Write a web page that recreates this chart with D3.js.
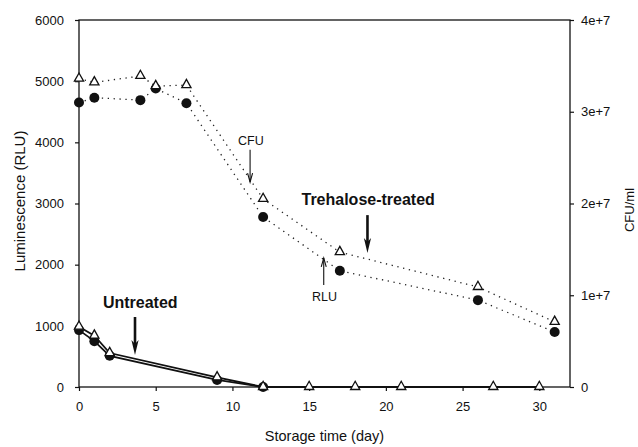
<!DOCTYPE html>
<html>
<head>
<meta charset="utf-8">
<script src="https://cdn.jsdelivr.net/npm/d3@7"></script>
<style>
  body { margin: 0; background: #fff; }
  text { font-family: "Liberation Sans", Arial, sans-serif; fill: #111; }
</style>
</head>
<body>
<div id="chart"></div>
<script>
// trehalose-treated cells
var treatedDays = [0, 1, 4, 5, 7, 12, 17, 26, 31];
var treatedRLU = [4650, 4730, 4690, 4880, 4640, 2780, 1900, 1420, 900];
var treatedCFU = [3.36e7, 3.32e7, 3.39e7, 3.28e7, 3.29e7, 2.05e7, 1.47e7, 1.09e7, 7.1e6];

// untreated cells
var untreatedRLUDays = [0, 1, 2, 9, 12];
var untreatedRLU = [930, 750, 510, 115, 0];
var untreatedCFUDays = [0, 1, 2, 9, 12, 15, 18, 21, 27, 30];
var untreatedCFU = [6.57e6, 5.6e6, 3.7e6, 1.05e6, 0, 0, 0, 0, 0, 0];

var xTicks = [0, 5, 10, 15, 20, 25, 30];
var leftTicks = [0, 1000, 2000, 3000, 4000, 5000, 6000];
var rightTicks = [0, 1e7, 2e7, 3e7, 4e7];
var rightTickLabels = ["0", "1e+7", "2e+7", "3e+7", "4e+7"];

var W = 638, H = 447;
var margin = { top: 20, right: 68, bottom: 60, left: 79 },
    width = W - margin.left - margin.right,
    height = H - margin.top - margin.bottom;

var svg = d3.select("#chart").append("svg")
    .attr("width", W)
    .attr("height", H);

var g = svg.append("g")
    .attr("transform", "translate(" + margin.left + "," + margin.top + ")");

var x = d3.scaleLinear().domain([0, 32]).range([0, width]);
var y = d3.scaleLinear().domain([0, 6000]).range([height, 0]);
var yR = d3.scaleLinear().domain([0, 4e7]).range([height, 0]);

// axes
var xAxis = g.append("g")
    .attr("transform", "translate(0," + height + ")")
    .call(d3.axisBottom(x).tickValues(xTicks).tickSize(4).tickPadding(11));
var lAxis = g.append("g")
    .call(d3.axisLeft(y).tickValues(leftTicks).tickSize(4).tickPadding(11)
        .tickFormat(d3.format("d")));
var rAxis = g.append("g")
    .attr("transform", "translate(" + width + ",0)")
    .call(d3.axisRight(yR).tickValues(rightTicks).tickSize(4).tickPadding(7)
        .tickFormat(function (d, i) { return rightTickLabels[i]; }));

[xAxis, lAxis, rAxis].forEach(function (a) {
    a.select(".domain").remove();
    a.selectAll("line").attr("stroke", "#111").attr("stroke-width", 1.2);
    a.selectAll("text").attr("font-size", 13).attr("fill", "#111")
        .attr("font-family", "'Liberation Sans', Arial, sans-serif");
});

// frame
g.append("rect")
    .attr("width", width)
    .attr("height", height)
    .attr("fill", "none")
    .attr("stroke", "#111")
    .attr("stroke-width", 1.3);

// axis titles
svg.append("text")
    .attr("x", margin.left + width / 2)
    .attr("y", 441)
    .attr("text-anchor", "middle")
    .attr("font-size", 14.5)
    .text("Storage time (day)");

svg.append("text")
    .attr("transform", "translate(25,201) rotate(-90)")
    .attr("text-anchor", "middle")
    .attr("font-size", 15)
    .text("Luminescence (RLU)");

svg.append("text")
    .attr("transform", "translate(634,210) rotate(-90)")
    .attr("text-anchor", "middle")
    .attr("font-size", 13)
    .text("CFU/ml");

function pts(days, vals, scale) {
    return days.map(function (d, i) { return [x(d), scale(vals[i])]; });
}

var line = d3.line();

// untreated: solid lines
g.append("path")
    .attr("d", line(pts(untreatedCFUDays, untreatedCFU, yR)))
    .attr("fill", "none").attr("stroke", "#111").attr("stroke-width", 1.8);
g.append("path")
    .attr("d", line(pts(untreatedRLUDays, untreatedRLU, y)))
    .attr("fill", "none").attr("stroke", "#111").attr("stroke-width", 1.8);

// treated: dotted lines
g.append("path")
    .attr("d", line(pts(treatedDays, treatedCFU, yR)))
    .attr("fill", "none").attr("stroke", "#222").attr("stroke-width", 1.3)
    .attr("stroke-dasharray", "1.3,4.6");
g.append("path")
    .attr("d", line(pts(treatedDays, treatedRLU, y)))
    .attr("fill", "none").attr("stroke", "#222").attr("stroke-width", 1.3)
    .attr("stroke-dasharray", "1.3,4.6");

function circles(days, vals) {
    g.selectAll(null)
        .data(pts(days, vals, y))
        .enter().append("circle")
        .attr("cx", function (d) { return d[0]; })
        .attr("cy", function (d) { return d[1]; })
        .attr("r", 5)
        .attr("fill", "#111");
}

var tri = "M0,-5.2L4.6,3L-4.6,3Z";
function triangles(days, vals) {
    g.selectAll(null)
        .data(pts(days, vals, yR))
        .enter().append("path")
        .attr("d", tri)
        .attr("transform", function (d) { return "translate(" + d[0] + "," + (d[1] - 0.5) + ")"; })
        .attr("fill", "#fff")
        .attr("stroke", "#111")
        .attr("stroke-width", 1.3);
}

circles(untreatedRLUDays, untreatedRLU);
circles(treatedDays, treatedRLU);
triangles(untreatedCFUDays, untreatedCFU);
triangles(treatedDays, treatedCFU);

// annotations
function thinArrow(day, v0, v1) {
    var x0 = x(day), y0 = y(v0), y1 = y(v1);
    var dir = y1 > y0 ? 1 : -1;
    g.append("line")
        .attr("x1", x0).attr("y1", y0).attr("x2", x0).attr("y2", y1)
        .attr("stroke", "#111").attr("stroke-width", 1.1);
    g.append("path")
        .attr("d", "M" + (x0 - 2.5) + "," + (y1 - dir * 9) + "L" + x0 + "," + y1 + "L" + (x0 + 2.5) + "," + (y1 - dir * 9))
        .attr("fill", "none").attr("stroke", "#111").attr("stroke-width", 1.1);
}

function boldArrow(day, v0, v1) {
    var x0 = x(day), y0 = y(v0), y1 = y(v1);
    g.append("line")
        .attr("x1", x0).attr("y1", y0).attr("x2", x0).attr("y2", y1 - 8)
        .attr("stroke", "#111").attr("stroke-width", 2.6);
    g.append("path")
        .attr("d", "M" + (x0 - 3.6) + "," + (y1 - 15) + "L" + x0 + "," + y1 + "L" + (x0 + 3.6) + "," + (y1 - 15) + "L" + x0 + "," + (y1 - 11) + "Z")
        .attr("fill", "#111");
}

g.append("text")
    .attr("x", x(11.2)).attr("y", y(3960))
    .attr("text-anchor", "middle").attr("font-size", 12.5)
    .text("CFU");
thinArrow(11.15, 3880, 3350);

g.append("text")
    .attr("x", x(16.0)).attr("y", y(1405))
    .attr("text-anchor", "middle").attr("font-size", 12.5)
    .text("RLU");
thinArrow(15.95, 1667, 2110);

g.append("text")
    .attr("x", x(14.5)).attr("y", y(2975))
    .attr("font-size", 16).attr("font-weight", "bold")
    .text("Trehalose-treated");
boldArrow(18.8, 2810, 2190);

g.append("text")
    .attr("x", x(1.56)).attr("y", y(1290))
    .attr("font-size", 16).attr("font-weight", "bold")
    .text("Untreated");
boldArrow(3.65, 1144, 523);
</script>
</body>
</html>
